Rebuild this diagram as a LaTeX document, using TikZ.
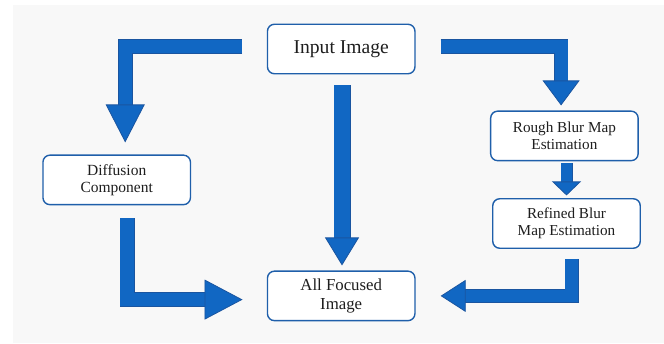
\documentclass[tikz,border=0pt]{standalone}
\usepackage{fontspec}
\setmainfont{Liberation Serif}
\usepackage{tikz}
\usetikzlibrary{arrows.meta,positioning,calc}
\definecolor{boxedge}{HTML}{1F5FAA}
\definecolor{arrowfill}{HTML}{1167C3}
\definecolor{arrowedge}{HTML}{1A55A0}
\definecolor{pagebg}{HTML}{F8F8F8}
\definecolor{labeltext}{HTML}{1E1E1E}

\begin{document}
\begin{tikzpicture}[
x=1pt,y=-1pt,
block/.style={draw=boxedge,line width=1.4pt,fill=white,rounded corners=7pt,
minimum width=147.5pt,minimum height=49.5pt,align=center,inner sep=2pt,
text=labeltext},
fatarrow/.style n args={3}{draw=arrowedge,line width=0.8pt,double=arrowfill,
double distance=#1,line join=miter,
-{Triangle[width=#2,length=#3,line width=0.8pt,color=arrowedge,fill=arrowfill]}}
]
\useasboundingbox (0,0) rectangle (664,343);
\fill[pagebg] (13,5) rectangle (664,343);

\node[block,font=\fontsize{19.6}{23}\selectfont] (input) at (341.2,49) {Input Image};
\node[block,below=196pt of input,font=\fontsize{16.8}{18.7}\selectfont] (focused) {All Focused\\Image};
\node[block,below left=80pt and 75.6pt of input,
font=\fontsize{15.5}{17.3}\selectfont] (diffusion) {Diffusion\\Component};
\node[block,below right=36pt and 74.3pt of input,
font=\fontsize{15.2}{16.7}\selectfont] (rough) {Rough Blur Map\\Estimation};
\node[block,below=36.7pt of rough,xshift=2.1pt,
font=\fontsize{15.2}{16.7}\selectfont] (refined) {Refined Blur\\Map Estimation};

% input branches
\draw[fatarrow={13.4pt}{39pt}{38pt},shorten <=24.6pt,shorten >=12pt]
([yshift=2.5pt]input.west) -| ([xshift=8.5pt]diffusion.north);
\draw[fatarrow={12.9pt}{37pt}{25pt},shorten <=25pt,shorten >=5pt]
([yshift=2.3pt]input.east) -| ([xshift=-3.3pt]rough.north);
\draw[fatarrow={15.4pt}{34pt}{28pt},shorten <=11pt,shorten >=5pt]
([xshift=0.8pt]input.south) -- ([xshift=0.8pt]focused.north);
\draw[fatarrow={10.4pt}{29pt}{14pt},shorten <=1.4pt,shorten >=2.6pt]
(rough.south -| refined.north) -- (refined.north);

% into the result
\draw[fatarrow={13.4pt}{40pt}{38pt},shorten <=12.7pt,shorten >=24.2pt]
([xshift=10.4pt]diffusion.south) |- ([yshift=-3.7pt]focused.west);
\draw[fatarrow={12.4pt}{32pt}{25pt},shorten <=10pt,shorten >=25pt]
([xshift=5pt]refined.south) |- (focused.east);
\end{tikzpicture}
\end{document}
